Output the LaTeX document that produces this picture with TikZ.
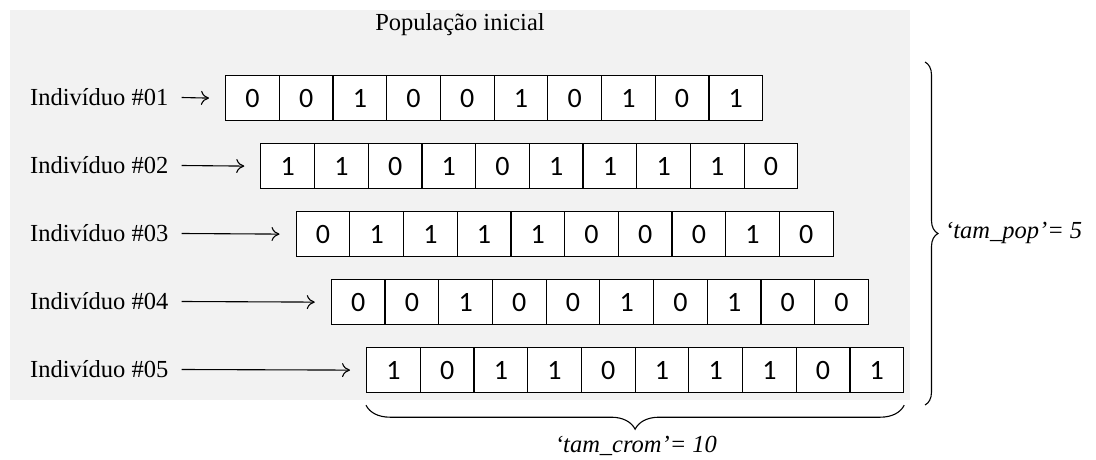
\documentclass[tikz,border=0pt]{standalone}
\usepackage{fontspec}
\setmainfont{Liberation Serif}
\newfontfamily\cellfont{Carlito}
\usetikzlibrary{decorations.pathreplacing,arrows.meta}
\begin{document}
\begin{tikzpicture}[x=1pt,y=-1pt,
  bit/.style={draw=black,fill=white,line width=1.2pt,minimum width=53.7pt,minimum height=45pt,
              inner sep=0pt,anchor=north west,font=\cellfont\fontsize{28}{30}\selectfont},
  lbl/.style={anchor=west,inner sep=0pt,font=\fontsize{24.5}{28}\selectfont},
  ptr/.style={-{To[length=8pt,width=14pt]},line width=1.1pt},
  brc/.style={decorate,line width=1.1pt},
  note/.style={inner sep=0pt,font=\itshape\fontsize{24.5}{28}\selectfont}]
\useasboundingbox (0,0) rectangle (1096,460);
% shaded population panel
\fill[black!5] (10,10) rectangle (910,400);
\node[inner sep=0pt,font=\fontsize{24.5}{28}\selectfont] (title) at (460,25) {População inicial};
% chromosomes, one row per individual
\foreach \bits [count=\r] in {{0,0,1,0,0,1,0,1,0,1},
                              {1,1,0,1,0,1,1,1,1,0},
                              {0,1,1,1,1,0,0,0,1,0},
                              {0,0,1,0,0,1,0,1,0,0},
                              {1,0,1,1,0,1,1,1,0,1}} {
  \foreach \b [count=\c] in \bits {
    \node[bit] (r\r-\c) at ({225+35.25*(\r-1)+53.7*(\c-1)},{75+68*(\r-1)}) {\b};
  }
  \node[lbl] (lab\r) at (30,{97.5+68*(\r-1)}) {Indivíduo \#0\r};
  \draw[ptr] ([xshift=13pt]lab\r.east) -- ([xshift=-16pt]r\r-1.west);
}
% population size brace
\coordinate (pt) at (925,62);
\coordinate (pb) at (925,405);
\draw[brc,decoration={brace,amplitude=13pt}] (pt) -- (pb);
\node[note,anchor=west] (pop) at (945,233) {‘tam\_pop’= 5};
% chromosome length brace
\draw[brc,decoration={brace,amplitude=24pt}] ([yshift=-12pt]r5-10.south east) -- ([yshift=-12pt]r5-1.south west);
\node[note] (crom) at (636,446) {‘tam\_crom’= 10};
\end{tikzpicture}
\end{document}
